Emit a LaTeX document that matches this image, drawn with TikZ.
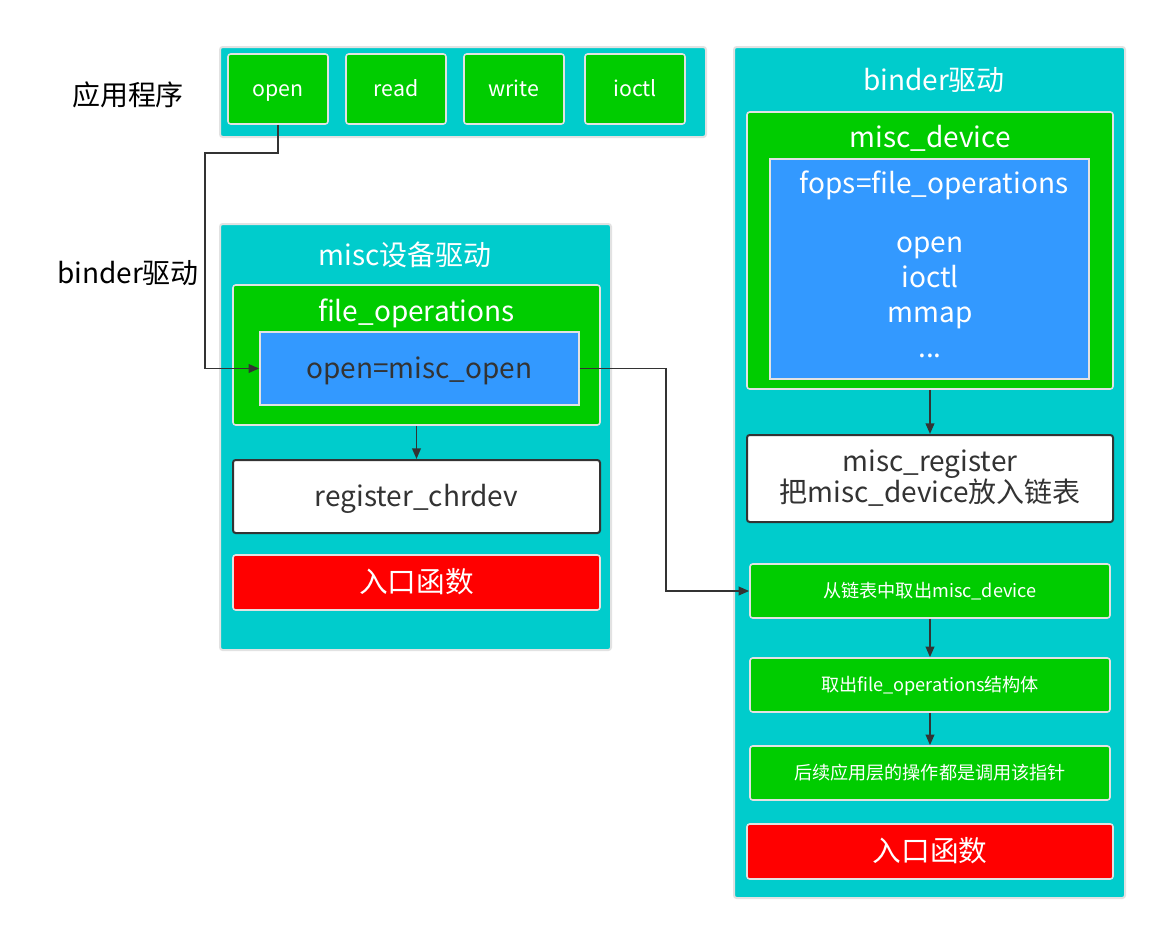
\documentclass[tikz,border=0pt]{standalone}
\usepackage{fontspec}
\setmainfont{Noto Sans CJK SC}
\usepackage{xcolor}
\usepackage{tikz}
\usetikzlibrary{arrows.meta}
\usetikzlibrary{positioning}

\definecolor{cyanbg}{HTML}{00CCCC}
\definecolor{greenbox}{HTML}{00CC00}
\definecolor{bluebox}{HTML}{3399FF}
\definecolor{redbox}{HTML}{FF0000}
\definecolor{edgegray}{HTML}{E2E2E2}
\definecolor{darkline}{HTML}{333333}

\begin{document}
\begin{tikzpicture}[x=0.75pt,y=-0.75pt,
  every node/.style={inner sep=0pt,align=center},
  wh/.style 2 args={minimum width=#1*0.75pt,minimum height=#2*0.75pt},
  oneline/.style={text height=0.86*#1,text depth=0.14*#1},
  layer/.style={rectangle,rounded corners=2pt,draw=edgegray,line width=1.5pt,fill=cyanbg},
  gbox/.style={rectangle,rounded corners=2pt,draw=edgegray,line width=1.2pt,fill=greenbox,text=white},
  bbox/.style={rectangle,draw=edgegray,line width=1.2pt,fill=bluebox},
  wbox/.style={rectangle,rounded corners=2pt,draw=darkline,line width=1.5pt,fill=white,text=darkline},
  rbox/.style={rectangle,rounded corners=2pt,draw=edgegray,line width=1.2pt,fill=redbox,text=white,
    oneline=21.5pt,font=\fontsize{21.5pt}{25pt}\selectfont},
  big/.style={oneline=21pt,font=\fontsize{21pt}{26.25pt}\selectfont},
  small/.style={oneline=13.6pt,font=\fontsize{13.6pt}{16pt}\selectfont},
  btn/.style={gbox,oneline=16pt,wh={100}{70},font=\fontsize{16pt}{18pt}\selectfont},
  arr/.style={draw=darkline,line width=1.4pt,-{Triangle[length=8pt,width=6.5pt]}}]
\useasboundingbox[fill=white] (0,0) rectangle (1158,932);

% application layer
\node[layer,wh={486}{90}] (app) at (463,92) {};
\node[btn] (bOpen) at (278,89) {open};
\node[btn] (bRead) at (396,89) {read};
\node[btn] (bWrite) at (514,89) {write};
\node[btn] (bIoctl) at (635,89) {ioctl};
\node[big] (lblApp) at (128,95) {应用程序};
\node[big] (lblBinder) at (128,273) {binder驱动};

% misc driver
\node[layer,wh={391}{426}] (miscDrv) at (415.5,437) {};
\node[big,text=white] (miscTitle) at (405,255) {misc设备驱动};
\node[gbox,wh={367}{140}] (fileOps) at (416.5,355) {};
\node[big,text=white] (fileOpsTitle) at (416.5,311) {file\_operations};
\node[bbox,big,text=darkline,wh={319}{73}] (openBox) at (419.5,368.5) {open=misc\_open};
\node[wbox,big,wh={367}{73}] (chrdev) at (416.5,496.5) {register\_chrdev};
\node[rbox,wh={367}{55}] (entryL) at (416.5,582.5) {入口函数};

% binder driver
\node[layer,wh={391}{851}] (binderDrv) at (929.5,472.5) {};
\node[big,text=white] (binderTitle) at (934,80) {binder驱动};
\node[gbox,wh={366}{277}] (miscDev) at (930,250.5) {};
\node[big,text=white] (miscDevTitle) at (930,137) {misc\_device};
\node[bbox,wh={319}{220}] (fops) at (929.5,269) {};
\node[big,text=white] (fopsTitle) at (934,183) {fops=file\_operations};
\node[text=white,font=\fontsize{21pt}{26.25pt}\selectfont] (fopsList) at (930,297) {open\\ioctl\\mmap\\...};
\node[wbox,wh={366}{87},font=\fontsize{21pt}{23.25pt}\selectfont] (miscReg) at (930,478.5) {misc\_register\\把misc\_device放入链表};
\node[gbox,small,wh={360}{54}] (takeDev) at (930,591) {从链表中取出misc\_device};
\node[gbox,small,wh={360}{54}] (takeOps) at (930,685) {取出file\_operations结构体};
\node[gbox,small,wh={360}{54}] (callPtr) at (930,773) {后续应用层的操作都是调用该指针};
\node[rbox,wh={366}{55}] (entryR) at (930,851.5) {入口函数};

% connectors
\draw[arr] (bOpen.south) |- (205,153) |- (openBox.west);
\draw[arr] (openBox.east) -- ++(86,0) |- (takeDev.west);
\draw[arr] (fileOps.south) -- (chrdev.north);
\draw[arr] (miscDev.south) -- (miscReg.north);
\draw[arr] (takeDev) -- (takeOps);
\draw[arr] (takeOps) -- (callPtr);
\end{tikzpicture}
\end{document}
